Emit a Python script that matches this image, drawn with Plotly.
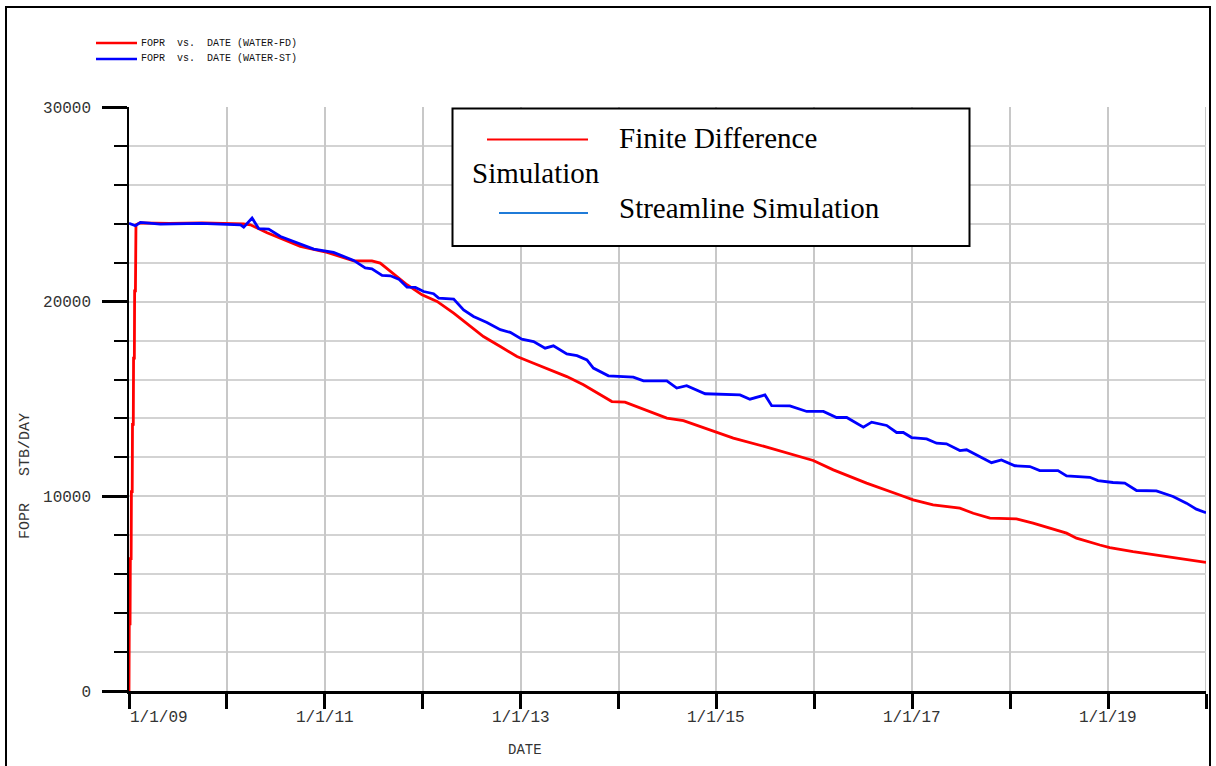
import plotly.graph_objects as go

# ---------------- data ----------------
fd_dates = ["2009-01-01", "2009-01-02", "2009-01-05", "2009-01-06", "2009-01-09", "2009-01-10",
            "2009-01-13", "2009-01-14", "2009-01-17", "2009-01-18", "2009-01-21", "2009-01-22",
            "2009-01-25", "2009-01-27", "2009-02-10", "2009-06-01", "2009-10-01",
            "2010-03-04", "2010-03-30", "2010-05-31", "2010-10-02", "2011-01-10",
            "2011-04-19", "2011-06-26", "2011-07-27", "2011-09-28", "2011-11-04", "2011-12-30",
            "2012-02-24", "2012-04-26", "2012-06-14", "2012-08-15", "2012-10-17", "2012-12-18",
            "2013-02-18", "2013-04-21", "2013-06-22", "2013-08-23", "2013-10-24", "2013-12-07",
            "2014-01-25", "2014-04-29", "2014-06-30", "2014-08-31", "2014-11-01", "2015-01-02",
            "2015-03-05", "2015-07-08", "2015-12-28", "2016-03-12", "2016-07-14", "2016-11-15",
            "2017-01-04", "2017-03-19", "2017-06-27", "2017-08-16", "2017-10-17", "2018-01-24",
            "2018-03-27", "2018-07-30", "2018-09-05", "2018-12-01", "2019-01-07", "2019-04-04",
            "2019-08-06", "2019-11-01", "2020-01-01"]
fd_fopr = [0, 3450, 3450, 6800, 6800, 10240,
           10240, 13700, 13700, 17100, 17100, 20550,
           20550, 23950, 24050, 24020, 24050,
           24000, 23950, 23540, 22840, 22530,
           22100, 22100, 21980, 21300, 20870, 20350,
           20010, 19410, 18900, 18210, 17700, 17180,
           16840, 16500, 16150, 15730, 15210, 14870,
           14840, 14360, 14020, 13890, 13590, 13330,
           12990, 12530, 11840, 11360, 10680, 10070,
           9820, 9560, 9390, 9130, 8880, 8840,
           8620, 8110, 7850, 7500, 7370, 7160,
           6900, 6700, 6610]

st_dates = ["2009-01-01", "2009-01-25", "2009-02-13", "2009-04-28", "2009-09-24", "2010-02-21",
            "2010-03-05", "2010-04-05", "2010-04-30", "2010-06-06", "2010-07-20", "2010-09-20",
            "2010-11-21", "2011-02-03", "2011-04-19", "2011-06-01", "2011-06-26", "2011-08-03",
            "2011-09-03", "2011-10-04", "2011-11-04", "2011-12-05", "2012-01-05", "2012-02-11",
            "2012-03-01", "2012-04-26", "2012-06-02", "2012-07-09", "2012-08-28", "2012-10-17",
            "2012-11-23", "2013-01-05", "2013-02-18", "2013-04-02", "2013-05-03", "2013-06-22",
            "2013-07-30", "2013-09-05", "2013-09-29", "2013-11-24", "2014-02-25", "2014-04-04",
            "2014-06-30", "2014-08-06", "2014-09-12", "2014-11-20", "2015-03-30", "2015-05-06",
            "2015-07-01", "2015-07-26", "2015-10-02", "2015-12-04", "2016-02-04", "2016-03-24",
            "2016-05-01", "2016-07-02", "2016-08-02", "2016-09-27", "2016-11-03", "2016-11-28",
            "2016-12-29", "2017-02-23", "2017-04-01", "2017-05-08", "2017-06-27", "2017-07-22",
            "2017-08-28", "2017-10-23", "2017-11-29", "2018-01-18", "2018-03-15", "2018-04-21",
            "2018-06-28", "2018-07-30", "2018-10-25", "2018-11-24", "2019-01-19", "2019-03-04",
            "2019-04-17", "2019-06-30", "2019-08-31", "2019-10-20", "2019-11-26", "2020-01-01"]
st_fopr = [24030, 23900, 24070, 23980, 24020, 23950,
           23830, 24300, 23750, 23730, 23350, 23010,
           22700, 22530, 22120, 21730, 21690, 21350,
           21330, 21160, 20750, 20730, 20520, 20410,
           20180, 20130, 19580, 19240, 18930, 18560,
           18420, 18070, 17950, 17610, 17730, 17320,
           17230, 17010, 16590, 16190, 16120, 15930,
           15930, 15560, 15680, 15270, 15210, 14990,
           15210, 14660, 14650, 14360, 14360, 14050,
           14050, 13550, 13810, 13640, 13280, 13280,
           13020, 12950, 12730, 12700, 12350, 12390,
           12130, 11730, 11870, 11570, 11530, 11320,
           11320, 11050, 10980, 10810, 10710, 10680,
           10300, 10280, 9990, 9650, 9340, 9160]

x_label_dates = ["2009-01-01", "2011-01-01", "2013-01-01", "2015-01-01", "2017-01-01", "2019-01-01"]
x_label_text = ["1/1/09", "1/1/11", "1/1/13", "1/1/15", "1/1/17", "1/1/19"]
y_tick_vals = [0, 10000, 20000, 30000]
y_tick_text = ["0", "10000", "20000", "30000"]

series_names = ["FOPR\u00a0 vs.\u00a0 DATE (WATER-FD)", "FOPR\u00a0 vs.\u00a0 DATE (WATER-ST)"]
box_labels = ["Finite Difference", "Simulation", "Streamline Simulation"]

# ---------------- layout helpers ----------------
W, H = 1216, 766
L, R, T, B = 129, 10, 107, 75
PW, PH = W - L - R, H - T - B


def px(xp):
    return (xp - L) / PW


def py(yp):
    return (H - B - yp) / PH


MONO = "Liberation Mono"
SERIF = "Liberation Serif"
TXT = "#333333"

fig = go.Figure()
fig.add_trace(go.Scatter(x=fd_dates, y=fd_fopr, mode="lines", name=series_names[0],
                         line=dict(color="#FF0000", width=2.8), showlegend=False))
fig.add_trace(go.Scatter(x=st_dates, y=st_fopr, mode="lines", name=series_names[1],
                         line=dict(color="#0000FF", width=2.8), showlegend=False))

shapes = []
annotations = []

# outer frame
shapes.append(dict(type="rect", xref="paper", yref="paper", x0=px(6), x1=px(1210),
                   y0=py(800), y1=py(7), line=dict(color="black", width=2), layer="below"))
# right edge grid line
shapes.append(dict(type="line", xref="x", yref="paper", x0="2020-01-01", x1="2020-01-01",
                   y0=0, y1=1, line=dict(color="#C8C8C8", width=2), layer="below"))

# small top legend
for i, (yy, col) in enumerate([(43, "#FF0000"), (59, "#0000FF")]):
    shapes.append(dict(type="line", xref="paper", yref="paper", x0=px(96), x1=px(137),
                       y0=py(yy), y1=py(yy), line=dict(color=col, width=2.5)))
    annotations.append(dict(xref="paper", yref="paper", x=px(140), y=py(yy), text=series_names[i],
                            showarrow=False, xanchor="left", yanchor="middle", borderpad=0,
                            font=dict(family=MONO, size=10, color="#111111")))

# boxed legend
shapes.append(dict(type="rect", xref="paper", yref="paper", x0=px(452.5), x1=px(969.5),
                   y0=py(246), y1=py(108.5), line=dict(color="black", width=2),
                   fillcolor="white", layer="above"))
shapes.append(dict(type="line", xref="paper", yref="paper", x0=px(487), x1=px(588),
                   y0=py(139.5), y1=py(139.5), line=dict(color="#FF0000", width=2)))
shapes.append(dict(type="line", xref="paper", yref="paper", x0=px(499), x1=px(588),
                   y0=py(213), y1=py(213), line=dict(color="#1F7BD8", width=2)))
for text, xx, yy in [(box_labels[0], 618, 138), (box_labels[1], 471, 173), (box_labels[2], 618, 208)]:
    annotations.append(dict(xref="paper", yref="paper", x=px(xx), y=py(yy), text=text,
                            showarrow=False, xanchor="left", yanchor="middle", borderpad=0,
                            font=dict(family=SERIF, size=29, color="black")))

# x tick labels
for d, t in zip(x_label_dates, x_label_text):
    annotations.append(dict(xref="x", yref="paper", x=d, y=py(708), text=t, showarrow=False,
                            xanchor="left" if t == x_label_text[0] else "center", yanchor="top",
                            borderpad=0, font=dict(family=MONO, size=16, color=TXT)))

# axis titles
annotations.append(dict(xref="paper", yref="paper", x=px(525), y=py(750), text="DATE",
                        showarrow=False, xanchor="center", yanchor="middle",
                        font=dict(family=MONO, size=14, color=TXT)))
annotations.append(dict(xref="paper", yref="paper", x=px(25), y=py(476), text="FOPR\u00a0\u00a0 STB/DAY",
                        showarrow=False, xanchor="center", yanchor="middle", textangle=-90,
                        font=dict(family=MONO, size=15, color=TXT)))

fig.update_layout(
    width=W, height=H,
    margin=dict(l=L, r=R, t=T, b=B, pad=0),
    paper_bgcolor="white", plot_bgcolor="white",
    shapes=shapes, annotations=annotations,
    xaxis=dict(type="date", range=["2009-01-01", "2020-01-01"], tick0="2009-01-01", dtick="M12",
               showticklabels=False, ticks="outside", ticklen=15, tickwidth=2.5, tickcolor="black",
               showgrid=True, gridcolor="#C8C8C8", gridwidth=2, zeroline=False,
               showline=True, linecolor="black", linewidth=2.5),
    yaxis=dict(range=[0, 30000], tickmode="array", tickvals=y_tick_vals, ticktext=y_tick_text,
               ticks="outside", ticklen=25, tickwidth=2.5, tickcolor="black", ticklabelstandoff=8,
               tickfont=dict(family=MONO, size=16, color=TXT),
               showgrid=True, gridcolor="#CFCFCF", gridwidth=2, zeroline=False,
               showline=True, linecolor="black", linewidth=1.5,
               minor=dict(dtick=2000, tick0=0, ticks="outside", ticklen=13, tickwidth=1.5,
                          tickcolor="black", showgrid=True, gridcolor="#D3D3D3", gridwidth=2)),
)

fig.write_html("out.html", config={"displayModeBar": False},
               post_script="document.body.style.margin='0';")
